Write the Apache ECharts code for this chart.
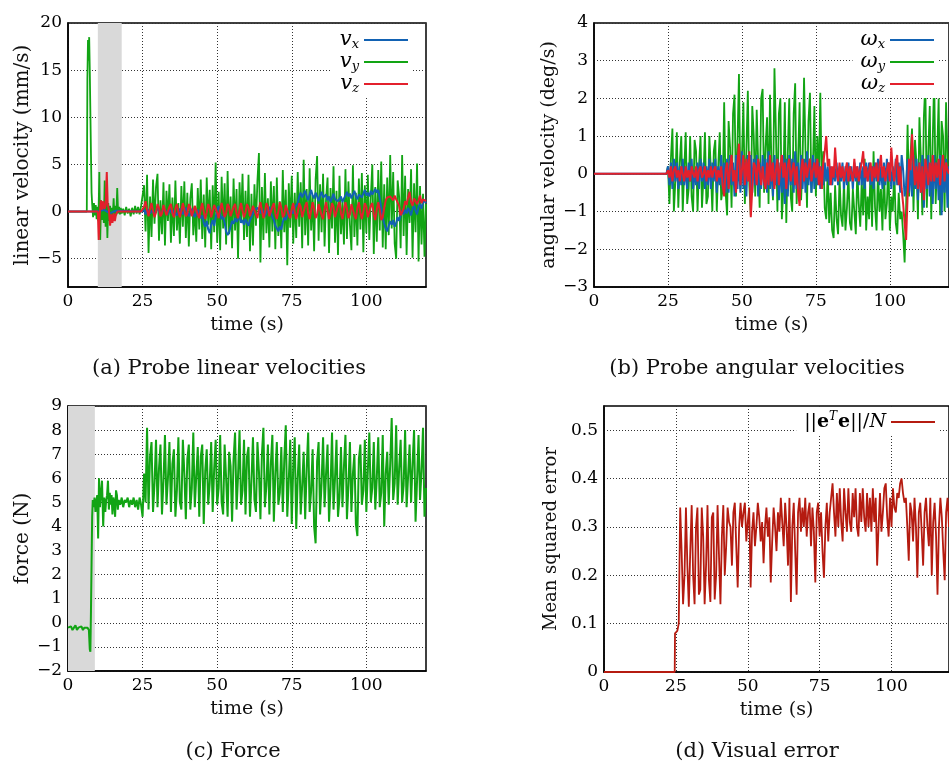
<!DOCTYPE html>
<html>
<head>
<meta charset="utf-8">
<script src="https://cdn.jsdelivr.net/npm/echarts@6/dist/echarts.min.js"></script>
<style>
html, body { margin: 0; padding: 0; background: #fff; }
#chart { width: 949px; height: 763px; }
</style>
</head>
<body>
<div id="chart"></div>
<script>
// 数据：0~25 s 之前的片段用 [t, v] 点，25 s 之后每 0.5 s 一个值
const T0 = 25;
const DT = 0.5;

const xTicks = [0, 25, 50, 75, 100];
const linTicks = [-5, 0, 5, 10, 15, 20];
const angTicks = [-3, -2, -1, 0, 1, 2, 3, 4];
const forceTicks = [-2, -1, 0, 1, 2, 3, 4, 5, 6, 7, 8, 9];
const errTicks = [0, 0.1, 0.2, 0.3, 0.4, 0.5];

// (a) linear velocity
const vxPre = [[0, 0], [10, 0], [12, 0.2], [14, -0.2], [16, 0.1], [24.5, 0]];
const vx = [
    0.0, 0.2, -0.3, 0.3, 0.4, -0.2, 0.1, 0.3, -0.3, 0.0,
    0.4, 0.1, -0.4, -0.1, 0.3, 0.5, 0.0, -0.3, 0.2, 0.4,
    -0.2, 0.1, 0.3, -0.4, 0.0, 0.3, 0.2, -0.3, 0.1, 0.4,
    0.0, -0.5, -0.2, 0.3, 0.1, -0.6, -0.4, 0.2, -0.3, -0.7,
    -0.4, -1.2, -1.6, -1.0, -1.9, -2.3, -1.4, -0.9, -1.5, -0.6,
    0.2, 0.6, -0.3, -0.8, -0.5, -1.2, -2.1, -2.5, -2.2, -1.6,
    -1.0, -1.3, -0.7, -1.1, -0.8, -0.5, -1.2, -0.9, -1.4, -0.8,
    -1.0, -1.5, -0.9, -0.6, -0.2, 0.2, 0.0, 0.4, 0.1, -0.2,
    0.3, -0.1, -0.5, -0.3, 0.2, 0.5, -0.1, -0.6, -0.9, -1.5,
    -1.8, -2.1, -1.6, -1.9, -1.1, -0.6, -0.9, -0.4, 0.1, -0.3,
    0.1, -0.2, 0.4, 0.2, 0.9, 1.6, 2.0, 1.5, 1.9, 2.2,
    1.6, 1.2, 1.8, 2.3, 1.7, 1.4, 2.0, 1.6, 1.1, 1.7,
    2.1, 1.5, 1.3, 1.8, 1.2, 1.6, 1.0, 1.4, 1.9, 1.3,
    1.5, 1.1, 1.3, 1.6, 1.0, 1.4, 1.7, 2.1, 1.6, 1.9,
    1.4, 1.8, 2.2, 1.6, 1.3, 1.8, 2.0, 1.5, 1.9, 2.3,
    1.7, 2.0, 1.6, 2.2, 1.8, 2.1, 2.4, 2.0, 2.3, 1.4,
    0.4, -0.6, -1.3, -1.8, -2.1, -1.5, -1.0, -1.4, -0.9, -1.6,
    -1.2, -0.6, -1.0, -0.4, 0.1, -0.3, 0.2, -0.2, 0.4, 0.0,
    -0.4, 0.3, 0.6, 0.1, -0.3, 0.5, 0.8, 0.3, 0.9, 1.2,
    0.9
];
const vyPre = [
    [0, 0], [6.3, 0], [6.5, 14], [6.7, 18.2], [6.9, 16], [7.1, 18.5], [7.3, 15], [7.5, 10.5],
    [7.7, 6], [7.9, 2], [8.1, 0.8], [8.4, -0.6], [8.7, 0.9], [9.0, -0.4], [9.3, 0.7], [9.6, -0.8],
    [9.9, 0.5], [10.2, -1.0], [10.5, 4.2], [10.8, -3.0], [11.1, 1.2], [11.4, -0.9], [11.7, 0.8],
    [12.0, -1.2], [12.3, 3.3], [12.6, -1.6], [12.9, 1.5], [13.2, -2.8], [13.5, 0.9], [13.8, -1.0],
    [14.1, 0.6], [14.4, -1.1], [14.7, 0.4], [15.0, -0.5], [15.3, 1.4], [15.6, -0.8], [15.9, 0.6],
    [16.2, -0.4], [16.5, 2.5], [16.8, -0.2], [17.1, 0.5], [17.4, -0.3], [17.7, 0.4], [18, -0.2],
    [18.5, 0.3], [19, -0.4], [19.5, 0.5], [20, -0.2], [20.5, 0.3], [21, -0.5], [21.5, 0.4],
    [22, -0.3], [22.5, 0.6], [23, -0.2], [23.5, 0.5], [24, -0.3], [24.5, 0.6]
];
const vy = [
    0.4, 2.8, -2.1, 3.9, -4.4, 1.6, -2.7, 3.4, -1.3, 2.6,
    4.0, -3.1, 1.2, -2.4, 3.1, -3.6, 2.2, -1.0, 2.9, -3.3,
    1.5, -2.6, 3.3, -2.0, 0.9, -3.4, 2.7, -1.6, 3.2, -2.8,
    2.0, -3.7, 1.4, 3.0, -2.5, 0.6, -3.2, 2.5, -1.9, 3.4,
    -2.9, 1.8, -3.8, 3.6, -1.4, 2.3, -4.0, 2.8, -2.2, 5.2,
    -3.3, 2.1, -4.1, 3.7, -1.8, 3.0, -3.5, 4.3, -2.4, 1.6,
    -3.9, 3.5, -2.0, 2.4, -5.0, 3.1, -1.2, 4.0, -3.0, 2.2,
    -2.7, 3.9, -4.2, 1.9, -3.6, 2.9, -1.5, 3.3, 6.2, -5.4,
    2.6, -3.0, 4.1, -2.3, 1.4, -3.8, 3.2, -2.1, 2.7, -4.0,
    3.6, -2.6, 1.1, -3.9, 4.4, -2.2, 2.3, -5.7, 3.0, -1.7,
    3.8, -3.4, 2.0, -2.8, 4.2, -1.6, 3.1, -3.9, 5.5, -2.5,
    2.4, -3.6, 4.6, -2.0, 1.7, -4.2, 3.4, 5.9, -3.1, 2.9,
    -2.2, 4.0, -3.7, 1.3, 3.6, -4.4, 2.5, -1.8, 4.8, -3.3,
    2.2, -4.6, 3.8, -2.4, 1.0, -3.5, 4.5, -2.9, 3.2, -1.4,
    -4.1, 4.9, -2.7, 2.0, -3.6, 3.5, -1.9, 4.1, -4.3, 2.8,
    -2.3, 3.9, -3.0, 1.5, 5.0, -4.5, 2.6, -3.2, 4.4, -2.0,
    5.3, -3.8, 2.9, -4.0, 3.6, -2.5, 6.0, -1.8, 4.2, -3.4,
    -5.0, 3.3, 1.6, -3.9, 6.0, -2.6, 3.8, -4.6, 2.4, -1.2,
    4.5, -4.9, 3.0, -2.2, 5.1, -5.3, 2.7, -3.5, 1.9, -4.8,
    0.8
];
const vzPre = [
    [0, 0], [10, 0], [10.3, -3.0], [10.6, -0.5], [11, 1.2], [11.4, 0.2], [11.8, 1.1], [12.2, 0.3],
    [12.6, 0.6], [13.0, 4.2], [13.3, 0.8], [13.7, 0.2], [14.1, -1.5], [14.5, -0.3], [14.9, -1.2],
    [15.3, -0.2], [15.7, -1.0], [16.1, -0.3], [16.6, 0], [24.5, 0]
];
const vz = [
    0.1, 0.5, 1.1, 0.2, -0.5, 0.3, 0.9, 0.1, -0.6, -0.1,
    0.8, 0.4, -0.5, -0.2, 0.7, 0.6, -0.4, -0.5, 0.5, 0.8,
    -0.2, -0.6, 0.3, 0.8, 0.0, -0.6, 0.1, 0.9, 0.2, -0.5,
    -0.2, 0.8, 0.4, -0.5, -0.4, 0.6, 0.7, -0.3, -0.7, 0.3,
    0.9, 0.0, -0.8, -0.1, 0.8, 0.4, -0.6, -0.4, 0.7, 0.9,
    -0.1, -0.7, 0.2, 0.9, 0.2, -0.6, -0.2, 0.8, 0.5, -0.5,
    -0.6, 0.5, 0.8, -0.2, -0.7, 0.2, 0.9, 0.1, -0.6, -0.1,
    0.8, 0.4, -0.5, -0.4, 0.6, 0.8, -0.3, -0.7, 0.3, 1.0,
    0.1, -0.7, -0.1, 0.9, 0.5, -0.5, -0.5, 0.5, 0.9, -0.2,
    -0.8, 0.0, 1.0, 0.4, -0.6, -0.3, 0.7, 0.8, -0.4, -0.7,
    0.3, 0.9, 0.0, -0.8, -0.1, 0.9, 0.5, -0.6, -0.5, 0.6,
    1.0, -0.2, -0.8, 0.1, 1.0, 0.3, -0.7, -0.3, 0.8, 0.8,
    -0.4, -0.8, 0.3, 1.0, 0.1, -0.8, -0.1, 0.9, 0.5, -0.6,
    -0.5, 0.6, 1.0, -0.2, -0.8, 0.2, 1.0, 0.3, -0.7, -0.3,
    0.8, 0.7, -0.4, -0.8, 0.4, 1.0, -0.1, -0.8, 0.0, 0.9,
    0.5, -0.6, -0.5, 0.6, 0.9, -0.3, -0.9, 0.2, 1.0, 0.2,
    -0.9, -0.6, 0.4, 1.2, 1.5, 1.3, 1.6, 1.4, 1.2, 1.7,
    1.3, 1.5, 0.6, -0.4, -0.6, 0.3, 1.1, 0.7, 1.5, 2.1,
    1.0, 0.6, 1.4, 1.6, 0.8, 1.2, 1.7, 0.9, 1.3, 1.5,
    1.1
];

// (b) angular velocity
const wPre = [[0, 0], [24.5, 0]];
const wx = [
    0.2, -0.3, 0.3, -0.4, 0.4, -0.2, 0.3, -0.4, 0.2, -0.3,
    0.4, -0.3, 0.2, -0.4, 0.3, -0.2, 0.4, -0.4, 0.1, -0.3,
    0.3, -0.4, 0.4, -0.2, 0.3, -0.4, 0.2, -0.3, 0.4, -0.4,
    0.3, -0.2, 0.4, -0.5, 0.2, -0.3, 0.5, -0.4, 0.3, -0.5,
    0.4, -0.5, 0.5, -0.3, 0.3, -0.6, 0.5, -0.4, 0.4, -0.5,
    0.6, -0.4, 0.3, -0.6, 0.5, -0.2, 0.5, -0.5, 0.4, -0.3,
    0.5, -0.6, 0.3, -0.4, 0.5, -0.3, 0.4, -0.5, 0.6, -0.4,
    0.3, -0.6, 0.5, -0.3, 0.4, -0.7, 0.3, -0.5, 0.5, -0.8,
    0.4, -0.6, 0.5, -0.3, 0.4, -0.5, 0.6, -0.4, 0.3, -0.6,
    0.5, -0.4, 0.4, -0.5, 0.6, -0.3, 0.4, -0.5, 0.5, -0.4,
    0.4, -0.3, 0.3, -0.4, 0.2, -0.3, 0.3, -0.2, 0.2, -0.3,
    0.2, -0.3, 0.1, -0.2, 0.3, -0.3, 0.2, -0.2, 0.3, -0.4,
    0.2, -0.3, 0.3, -0.2, 0.2, -0.4, 0.3, -0.2, 0.2, -0.3,
    0.3, -0.3, 0.2, -0.4, 0.3, -0.2, 0.3, -0.3, 0.2, -0.4,
    0.3, -0.2, 0.4, -0.3, 0.2, -0.4, 0.3, -0.3, 0.4, -0.2,
    0.3, -0.4, 0.2, -0.3, 0.4, -0.3, 0.3, -0.5, 0.5, 0.1,
    -0.6, -0.3, 0.4, -0.5, 0.3, -0.6, 0.5, -0.4, 0.4, -0.7,
    0.3, -0.5, 0.5, -0.9, 0.4, -0.4, 0.5, -0.6, 0.3, -0.8,
    0.5, -0.4, 0.3, -0.7, 0.5, -1.1, 0.3, -0.5, 0.4, -0.9,
    0.2
];
const wy = [
    0.2, -0.8, 0.4, 1.2, -1.0, -0.2, 1.1, -0.9, 0.3, 1.0,
    -1.0, 0.1, 1.1, -0.8, -0.4, 1.0, -0.6, -1.0, 0.9, 0.6,
    -1.0, 0.2, 1.0, -0.9, -0.1, 1.1, -0.8, -0.6, 1.0, 0.1,
    -1.0, 0.6, 0.9, -1.0, 0.2, 1.1, -0.7, -0.4, 1.9, -0.5,
    -1.1, 1.4, 0.7, -0.9, 1.6, 2.1, -0.6, 0.8, 2.65, -0.4,
    0.4, 1.9, -0.8, 0.6, 2.2, -0.3, -1.1, 1.8, 1.0, -0.6,
    1.7, 0.3, -0.9, 2.0, 2.25, -0.5, 0.7, 1.5, -0.8, 2.1,
    0.2, -0.7, 2.8, 1.1, -1.0, 1.6, 2.0, -1.2, -0.4, 1.9,
    -1.3, 0.5, 2.0, -0.6, -1.0, 1.6, 2.4, -0.8, 0.4, 1.9,
    -0.7, 0.3, 2.55, 0.6, -0.9, 1.4, 2.15, -0.5, 0.2, 1.8,
    -0.6, 1.0, -0.2, 2.15, -0.4, 0.6, -0.9, -1.2, 0.1, -1.3,
    -0.5, -1.5, -1.7, -0.3, -1.2, -1.6, -0.1, -1.1, -1.4, -0.2,
    -1.5, -0.9, 0.0, -1.3, -1.5, -0.4, -1.0, -1.6, 0.1, -0.8,
    -1.4, -0.2, -1.1, 0.4, -1.5, -0.6, -1.2, 0.2, -1.4, 0.6,
    -0.9, -1.5, 0.1, -1.0, -0.4, -1.5, 0.2, -1.2, -0.8, 0.3,
    -1.5, -0.6, -1.0, 0.1, -1.3, -1.6, -0.5, -1.2, -1.0, -1.6,
    -2.35, -0.9, 1.3, -0.6, 0.5, 1.2, -1.0, 0.9, 0.3, -1.2,
    1.5, 0.4, -1.1, 1.5, 2.4, -0.9, 0.6, 1.8, -1.2, 0.9,
    2.6, -0.8, 0.5, 2.0, -1.1, 1.4, 1.0, -1.0, 1.9, 0.4,
    -0.9
];
const wz = [
    0.1, -0.1, 0.2, -0.2, 0.1, 0.2, -0.1, 0.1, -0.2, 0.2,
    0.0, -0.2, 0.2, -0.1, 0.1, -0.2, 0.2, 0.0, -0.1, 0.2,
    -0.2, 0.1, 0.2, -0.1, 0.0, 0.2, -0.2, 0.1, -0.1, 0.2,
    -0.1, 0.1, 0.2, -0.2, 0.1, -0.1, 0.2, -0.3, -0.6, 0.1,
    0.3, -0.4, 0.2, 0.5, -0.2, 0.1, -0.5, 0.3, 0.8, -0.3,
    0.1, 0.5, -0.3, 0.4, -0.2, 0.6, -1.15, -0.4, 0.3, 0.2,
    -0.3, 0.4, 0.1, -0.3, 0.2, -0.2, -0.4, 0.3, -0.3, 0.5,
    -0.2, 0.3, -0.4, 0.1, 0.4, -0.3, 0.2, 0.5, -0.1, 0.3,
    -0.4, 0.2, 0.4, -0.2, 0.1, 0.3, -0.3, 0.2, -0.5, -0.85,
    0.1, 0.4, -0.2, 0.3, -0.1, 0.2, 0.4, -0.2, 0.1, 0.3,
    -0.1, 0.4, -0.3, 0.2, -0.4, 0.3, 0.6, 1.0, 0.2, 0.4,
    -0.3, 0.2, -0.1, 0.7, 0.1, -0.2, 0.3, -0.1, 0.2, -0.2,
    0.1, 0.3, -0.2, 0.2, 0.0, -0.2, 0.4, -0.1, 0.2, -0.2,
    0.1, 0.3, 0.6, -0.1, 0.2, -0.2, 0.1, 0.3, -0.2, 0.2,
    -0.1, 0.3, -0.2, 0.2, 0.5, -0.1, 0.2, -0.2, 0.1, 0.3,
    -0.2, 0.7, 0.1, -0.2, 0.3, 0.5, -0.3, 0.2, -0.4, -0.8,
    -1.3, -1.75, -0.6, 0.4, 0.1, 1.05, 0.3, -0.3, 0.2, -0.4,
    0.3, -0.5, 0.2, -0.7, 0.4, 0.1, -0.3, 0.3, -0.2, 0.5,
    -0.2, 0.3, -0.1, 0.4, -0.3, 0.2, 0.5, -0.2, 0.3, 0.1,
    0.0
];

// (c) force
const forcePre = [
    [0, -0.2], [0.5, -0.25], [1, -0.15], [1.5, -0.3], [2, -0.2], [2.5, -0.1], [3, -0.3], [3.5, -0.2],
    [4, -0.25], [4.5, -0.15], [5, -0.3], [5.5, -0.2], [6, -0.25], [6.5, -0.2], [7, -0.3], [7.3, -1.1],
    [7.5, -1.2], [7.7, 0.5], [7.9, 2.5], [8.1, 4.4], [8.3, 5.1], [8.6, 4.8], [8.9, 5.2], [9.2, 4.6],
    [9.5, 5.0], [9.8, 5.3], [10.1, 3.5], [10.4, 6.0], [10.7, 4.8], [11.0, 5.3], [11.4, 5.9],
    [11.8, 4.0], [12.1, 5.2], [12.5, 4.6], [12.8, 5.1], [13.1, 5.3], [13.4, 5.9], [13.7, 4.7],
    [14, 5.4], [14.3, 4.9], [14.6, 5.3], [14.9, 4.5], [15.2, 5.2], [15.5, 5.0], [15.8, 4.4],
    [16.1, 5.5], [16.4, 5.3], [16.7, 4.7], [17, 5.1], [17.5, 4.9], [18, 5.2], [18.5, 4.8],
    [19, 5.1], [19.5, 5.0], [20, 5.2], [20.5, 4.8], [21, 5.1], [21.5, 4.9], [22, 5.2],
    [22.5, 4.8], [23, 5.1], [23.5, 4.7], [24, 5.2], [24.5, 4.9]
];
const force = [
    4.4, 6.2, 5.0, 8.1, 4.7, 6.9, 7.5, 4.6, 5.8, 7.6,
    4.8, 6.4, 7.4, 4.5, 5.9, 7.8, 4.9, 6.0, 7.5, 4.6,
    6.6, 7.2, 4.4, 5.5, 7.7, 5.0, 4.7, 7.6, 6.2, 4.3,
    6.8, 7.4, 4.7, 5.6, 7.9, 4.8, 6.1, 7.3, 4.4, 6.9,
    7.4, 4.1, 6.3, 7.2, 4.9, 5.8, 7.5, 4.6, 6.4, 7.6,
    4.9, 5.6, 7.8, 5.0, 4.5, 7.4, 6.0, 4.4, 7.1, 6.5,
    4.2, 6.8, 7.9, 4.7, 6.1, 8.0, 4.9, 5.5, 7.6, 4.5,
    6.9, 7.3, 4.4, 5.9, 7.7, 5.1, 4.6, 7.5, 6.3, 4.3,
    7.0, 8.1, 4.8, 5.7, 7.4, 4.5, 6.6, 7.8, 4.2, 6.2,
    7.5, 4.9, 5.4, 7.3, 4.6, 6.8, 8.2, 4.4, 5.9, 7.6,
    4.1, 6.5, 7.7, 3.9, 6.0, 7.4, 4.5, 5.7, 7.1, 4.3,
    6.4, 7.9, 4.6, 5.5, 7.2, 4.0, 3.3, 6.7, 7.5, 4.5,
    5.8, 7.7, 4.8, 6.2, 7.4, 4.2, 5.6, 7.9, 4.7, 6.0,
    7.6, 4.4, 5.2, 7.3, 4.8, 6.5, 7.8, 4.3, 5.7, 7.5,
    4.6, 6.2, 7.0, 4.1, 3.6, 6.8, 7.4, 4.9, 5.5, 7.6,
    4.6, 6.3, 7.9, 5.0, 5.6, 7.5, 4.7, 6.0, 7.7, 4.8,
    5.4, 7.8, 4.0, 6.2, 7.1, 4.9, 6.6, 8.5, 5.1, 5.8,
    8.2, 4.9, 6.4, 7.6, 5.0, 5.7, 8.0, 4.8, 6.1, 7.4,
    5.0, 6.6, 8.0, 4.2, 5.9, 7.8, 5.1, 6.3, 8.1, 4.4,
    5.6
];

// (d) visual error
const errPre = [[0, 0], [24.6, 0], [24.7, 0.08]];
const err = [
    0.08, 0.085, 0.1, 0.34, 0.25, 0.14, 0.2, 0.34, 0.22, 0.135,
    0.25, 0.345, 0.2, 0.14, 0.3, 0.34, 0.16, 0.17, 0.34, 0.28,
    0.14, 0.22, 0.345, 0.19, 0.145, 0.32, 0.33, 0.15, 0.2, 0.345,
    0.24, 0.14, 0.28, 0.345, 0.2, 0.26, 0.34, 0.31, 0.3, 0.22,
    0.33, 0.35, 0.26, 0.175, 0.3, 0.35, 0.3, 0.33, 0.35, 0.27,
    0.31, 0.34, 0.175, 0.29, 0.33, 0.26, 0.3, 0.35, 0.32, 0.27,
    0.31, 0.225, 0.3, 0.34, 0.28, 0.32, 0.185, 0.27, 0.34, 0.3,
    0.25, 0.33, 0.29, 0.36, 0.31, 0.26, 0.35, 0.3, 0.22, 0.36,
    0.145, 0.3, 0.35, 0.25, 0.16, 0.33, 0.36, 0.29, 0.34, 0.3,
    0.36, 0.28, 0.33, 0.35, 0.26, 0.34, 0.29, 0.185, 0.33, 0.35,
    0.28, 0.33, 0.25, 0.195, 0.3, 0.35, 0.27, 0.33, 0.36, 0.39,
    0.33, 0.28, 0.37, 0.3, 0.38, 0.31, 0.27, 0.38, 0.33, 0.29,
    0.38, 0.31, 0.29, 0.37, 0.32, 0.38, 0.3, 0.28, 0.37, 0.31,
    0.38, 0.32, 0.29, 0.37, 0.3, 0.36, 0.29, 0.38, 0.31, 0.36,
    0.22, 0.3, 0.37, 0.29, 0.33, 0.38, 0.39, 0.32, 0.28, 0.36,
    0.3, 0.38, 0.34, 0.33, 0.37, 0.36, 0.39, 0.4, 0.37, 0.35,
    0.36, 0.3, 0.23, 0.35, 0.33, 0.27, 0.36, 0.3, 0.195, 0.33,
    0.35, 0.29, 0.22, 0.33, 0.36, 0.3, 0.26, 0.36, 0.2, 0.31,
    0.35, 0.28, 0.16, 0.3, 0.36, 0.32, 0.25, 0.19, 0.33, 0.36,
    0.3
];

const SERIF = '"DejaVu Serif", serif';
const BLUE = '#1262b3';
const GREEN = '#12a414';
const RED = '#e3202c';
const DARKRED = '#b51b10';

// 拼接 [t, v] 点
function toPoints(pre, vals) {
    return pre.concat(vals.map((v, i) => [T0 + i * DT, v]));
}

function minus(v) {
    return String(v).replace('-', '\u2212');
}

function makeXAxis(gridIndex) {
    return {
        type: 'value', gridIndex: gridIndex, min: 0, max: 120,
        name: 'time (s)', nameLocation: 'middle', nameGap: 29,
        nameTextStyle: { fontFamily: SERIF, fontSize: 19, color: '#111' },
        axisLine: { onZero: false, lineStyle: { color: '#000', width: 1.5 } },
        axisTick: { show: false, customValues: xTicks },
        axisLabel: { customValues: xTicks, fontFamily: SERIF, fontSize: 17, color: '#000', margin: 6 },
        splitLine: { show: true, lineStyle: { color: '#333', type: [1, 2], width: 1 } }
    };
}

function makeYAxis(gridIndex, name, min, max, ticks, gap, nameSize) {
    return {
        type: 'value', gridIndex: gridIndex, min: min, max: max,
        name: name, nameLocation: 'middle', nameGap: gap,
        nameTextStyle: { fontFamily: SERIF, fontSize: nameSize, color: '#111' },
        axisLine: { onZero: false, lineStyle: { color: '#000', width: 1.5 } },
        axisTick: { show: false, customValues: ticks },
        axisLabel: { customValues: ticks, fontFamily: SERIF, fontSize: 17, color: '#000', margin: 6, formatter: minus },
        splitLine: { show: true, lineStyle: { color: '#333', type: [1, 2], width: 1 } }
    };
}

function lineSeries(name, idx, data, color, width) {
    return {
        name: name, type: 'line', xAxisIndex: idx, yAxisIndex: idx, z: 3,
        data: data, showSymbol: false, symbol: 'none',
        lineStyle: { color: color, width: width || 1.5 },
        itemStyle: { color: color }, clip: true
    };
}

function shade(idx, from, to) {
    return {
        type: 'line', xAxisIndex: idx, yAxisIndex: idx, data: [], silent: true, z: 1,
        markArea: { silent: true, z: 1, itemStyle: { color: '#d9d9d9' }, data: [[{ xAxis: from }, { xAxis: to }]] }
    };
}

const legendBase = {
    orient: 'vertical', align: 'right', icon: 'rect', itemWidth: 44, itemHeight: 2,
    itemGap: 0, backgroundColor: '#fff', padding: [3, 4, 3, 8], selectedMode: false
};

const subRich = {
    i: { fontFamily: SERIF, fontStyle: 'italic', fontSize: 21, color: '#000', lineHeight: 15 },
    s: { fontFamily: SERIF, fontStyle: 'italic', fontSize: 13, color: '#000', lineHeight: 15, padding: [9, 0, 0, 0] }
};

const chart = echarts.init(document.getElementById('chart'));

const option = {
    animation: false,
    backgroundColor: '#fff',
    title: [
        { text: '(a) Probe linear velocities', left: 229, top: 358, textAlign: 'center' },
        { text: '(b) Probe angular velocities', left: 757, top: 358, textAlign: 'center' },
        { text: '(c) Force', left: 233, top: 741, textAlign: 'center' },
        { text: '(d) Visual error', left: 757, top: 741, textAlign: 'center' }
    ].map(t => Object.assign(t, { padding: 0, textStyle: { fontFamily: SERIF, fontSize: 21, fontWeight: 'normal', color: '#111' } })),
    grid: [
        { left: 68, top: 23, width: 358, height: 264 },
        { left: 594, top: 23, width: 358, height: 264 },
        { left: 68, top: 406, width: 358, height: 265 },
        { left: 604, top: 406, width: 347, height: 266 }
    ].map(g => Object.assign(g, { show: true, borderColor: '#000', borderWidth: 1.5, backgroundColor: 'transparent' })),
    xAxis: [makeXAxis(0), makeXAxis(1), makeXAxis(2), makeXAxis(3)],
    yAxis: [
        makeYAxis(0, 'linear velocity (mm/s)', -8, 20, linTicks, 35, 20),
        makeYAxis(1, 'angular velocity (deg/s)', -3, 4, angTicks, 33, 19),
        makeYAxis(2, 'force (N)', -2, 9, forceTicks, 35, 20),
        makeYAxis(3, 'Mean squared error', 0, 0.55, errTicks, 44, 18)
    ],
    legend: [
        Object.assign({}, legendBase, {
            right: 537, top: 26, data: ['vx', 'vy', 'vz'],
            formatter: n => '{i|v}{s|' + n[1] + '}',
            textStyle: { rich: subRich }
        }),
        Object.assign({}, legendBase, {
            right: 11, top: 26, data: ['wx', 'wy', 'wz'],
            formatter: n => '{i|\u03c9}{s|' + n[1] + '}',
            textStyle: { rich: subRich }
        }),
        Object.assign({}, legendBase, {
            right: 10, top: 408, data: ['err'],
            formatter: () => '{r|||}{b|e}{t|T}{b|e}{r|||/}{i|N}',
            textStyle: {
                rich: {
                    r: { fontFamily: SERIF, fontSize: 19, color: '#000' },
                    b: { fontFamily: SERIF, fontSize: 19, fontWeight: 'bold', color: '#000' },
                    t: { fontFamily: SERIF, fontSize: 12, fontStyle: 'italic', color: '#000', padding: [0, 1, 10, 0] },
                    i: { fontFamily: SERIF, fontSize: 19, fontStyle: 'italic', color: '#000' }
                }
            }
        })
    ],
    series: [
        shade(0, 10, 18),
        lineSeries('vy', 0, toPoints(vyPre, vy), GREEN, 1.8),
        lineSeries('vx', 0, toPoints(vxPre, vx), BLUE, 2),
        lineSeries('vz', 0, toPoints(vzPre, vz), RED, 2),
        lineSeries('wy', 1, toPoints(wPre, wy), GREEN, 1.8),
        lineSeries('wx', 1, toPoints(wPre, wx), BLUE, 2),
        lineSeries('wz', 1, toPoints(wPre, wz), RED, 2),
        shade(2, 0, 9),
        lineSeries('force', 2, toPoints(forcePre, force), GREEN, 2),
        lineSeries('err', 3, toPoints(errPre, err), DARKRED, 1.8)
    ]
};

chart.setOption(option);
</script>
</body>
</html>
